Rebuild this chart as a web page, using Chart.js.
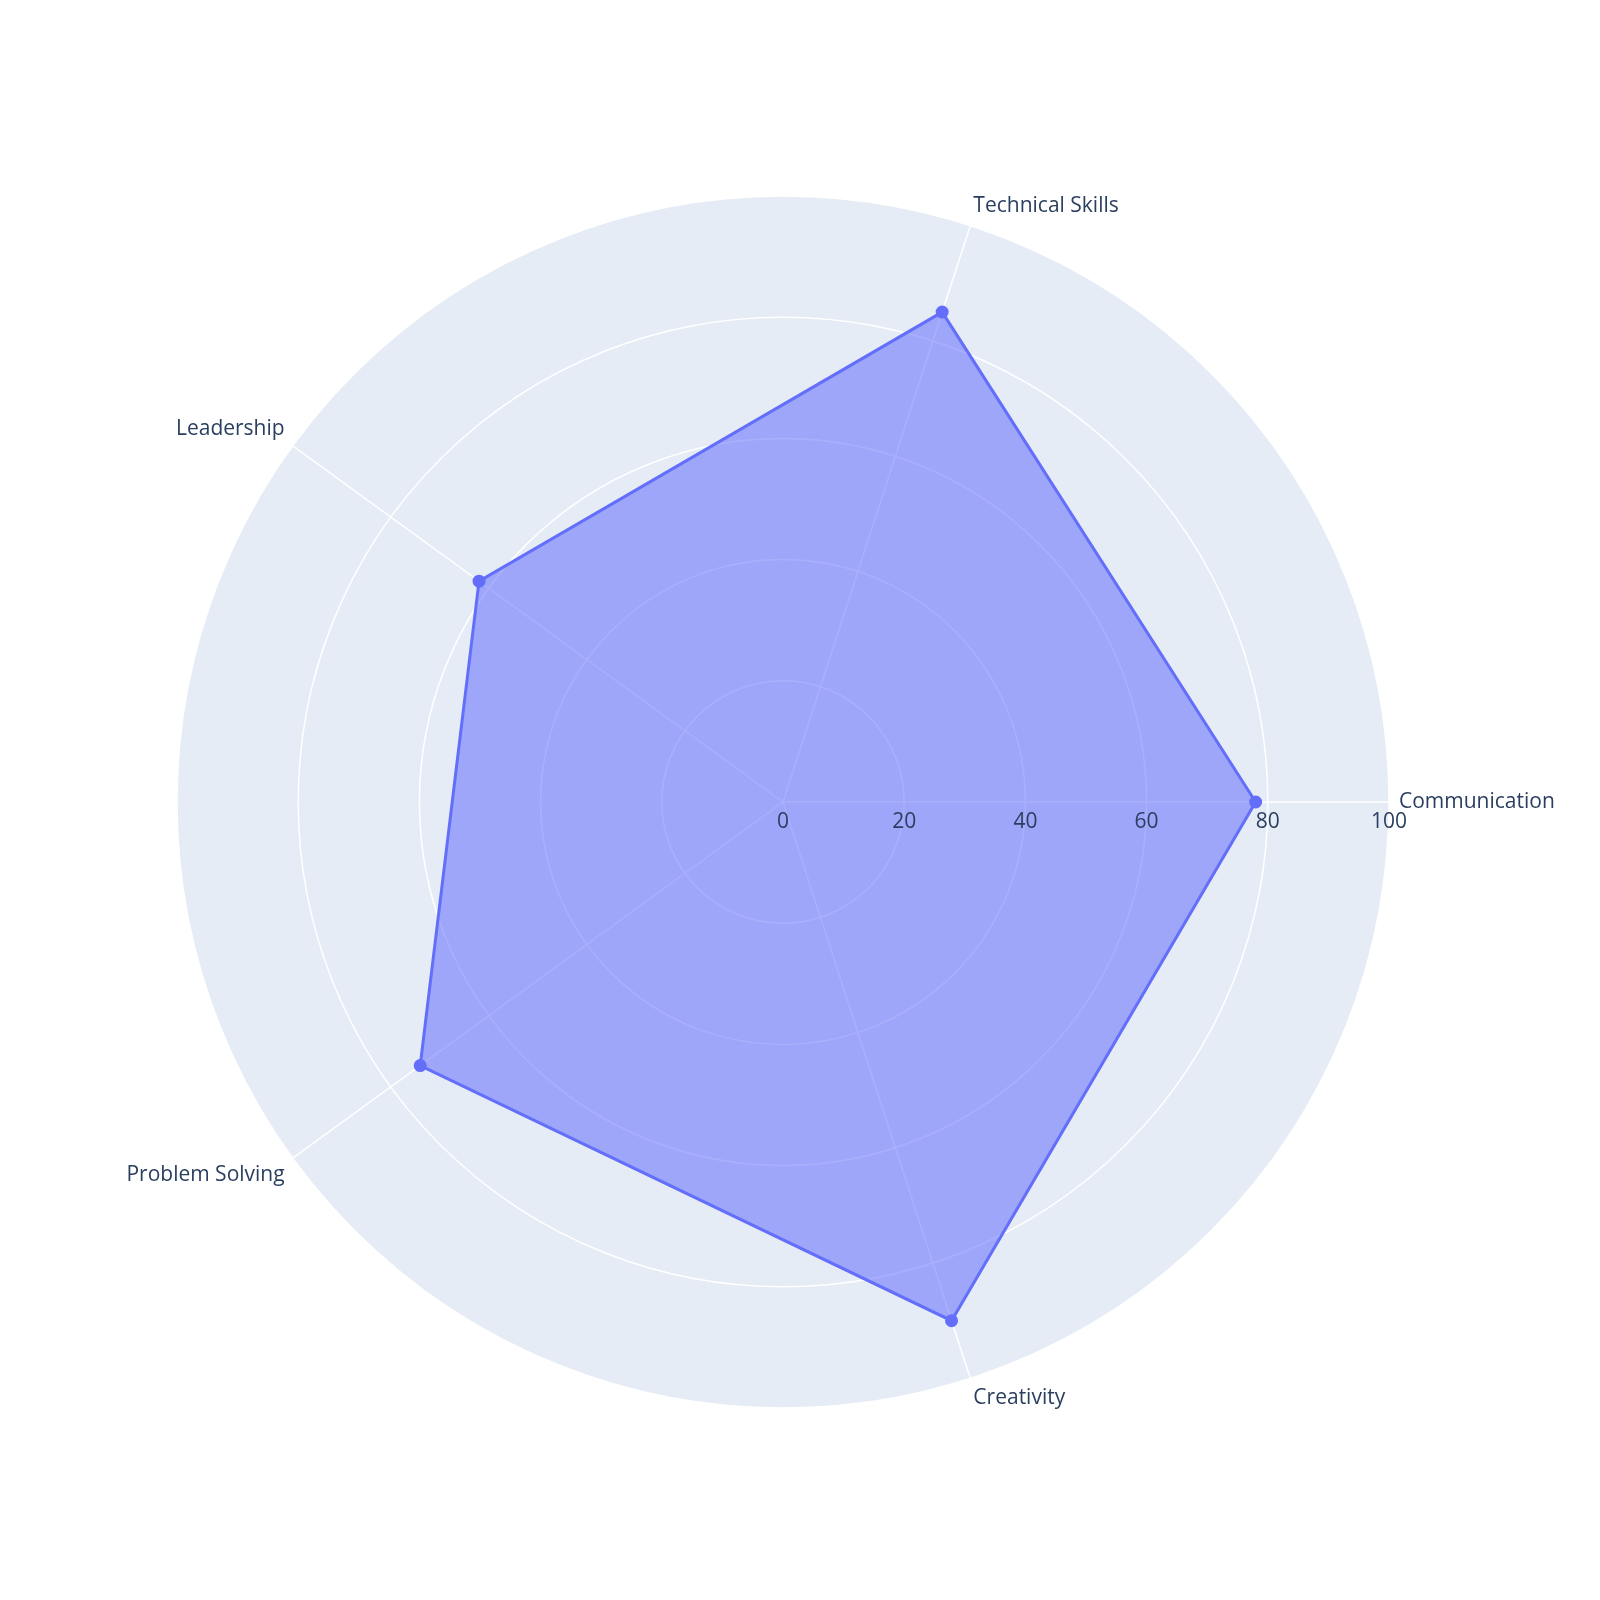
<!DOCTYPE html>
<html><head><meta charset="utf-8">
<script src="https://cdn.jsdelivr.net/npm/chart.js@4"></script>
<style>html,body{margin:0;background:#fff}#w{width:1600px;height:1600px}</style>
</head><body><div id="w"><canvas id="c"></canvas></div>
<script>
const categories = ["Communication","Creativity","Problem Solving","Leadership","Technical Skills"];
const values = [78, 90, 74, 62, 85];
const tickValues = [0, 20, 40, 60, 80, 100];
const fontFam = '"Open Sans", "Noto Sans", sans-serif';
const labelPlugin = {
  id: 'labels',
  afterDraw(chart) {
    const s = chart.scales.r, ctx = chart.ctx;
    ctx.save();
    ctx.fillStyle = '#2a3f5f';
    ctx.font = '21px ' + fontFam;
    categories.forEach((lab, i) => {
      const p = s.getPointPosition(i, s.drawingArea + 10);
      const dx = p.x - s.xCenter, dy = p.y - s.yCenter;
      ctx.textAlign = Math.abs(dx) < 5 ? 'center' : (dx > 0 ? 'left' : 'right');
      ctx.textBaseline = Math.abs(dy) < 5 ? 'middle' : (dy < 0 ? 'bottom' : 'top');
      ctx.fillText(lab, p.x, p.y);
    });
    ctx.font = '21px ' + fontFam;
    ctx.textAlign = 'center'; ctx.textBaseline = 'top';
    tickValues.forEach(v => {
      const p = s.getPointPositionForValue(0, v);
      ctx.fillText(String(v), p.x, p.y + 10);
    });
    ctx.restore();
  }
};
new Chart(document.getElementById('c'), {
  type: 'radar',
  data: { labels: categories, datasets: [{
    data: values,
    borderColor: '#636efa', backgroundColor: 'rgba(99,110,250,0.55)',
    borderWidth: 3, fill: true,
    pointRadius: 5, pointBackgroundColor: '#636efa', pointBorderColor: '#636efa'
  }]},
  options: {
    responsive: true, maintainAspectRatio: false, animation: false,
    layout: { padding: { left: 177, right: 211, top: 196, bottom: 192 } },
    plugins: { legend: { display: false }, tooltip: { enabled: false } },
    scales: { r: {
      startAngle: 90, min: 0, max: 100,
      backgroundColor: '#e5ecf6',
      ticks: { display: false, stepSize: 20 },
      grid: { circular: true, color: '#ffffff', lineWidth: 1.5 },
      angleLines: { color: '#ffffff', lineWidth: 1.5 },
      pointLabels: { display: false }
    }}
  },
  plugins: [labelPlugin]
});
</script></body></html>
